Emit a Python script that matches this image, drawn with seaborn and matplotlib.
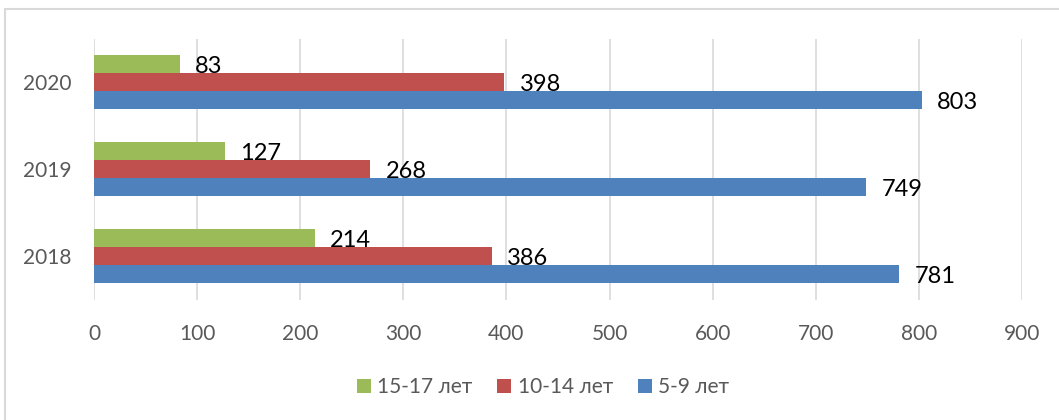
import matplotlib
matplotlib.use("Agg")
import matplotlib.pyplot as plt
from matplotlib.patches import Patch
from matplotlib.lines import Line2D
import seaborn as sns
import pandas as pd

years = ["2020", "2019", "2018"]
series = ["15-17 лет", "10-14 лет", "5-9 лет"]
values_15_17 = [83, 127, 214]
values_10_14 = [398, 268, 386]
values_5_9 = [803, 749, 781]
colors = ["#9BBB59", "#C0504D", "#4F81BD"]
xticks = [0, 100, 200, 300, 400, 500, 600, 700, 800, 900]

rows = []
for s, vals in zip(series, [values_15_17, values_10_14, values_5_9]):
    for y, v in zip(years, vals):
        rows.append({"year": y, "series": s, "value": v})
df = pd.DataFrame(rows)

sns.set_theme(style="white")
plt.rcParams["font.family"] = ["Lato", "DejaVu Sans"]

fig = plt.figure(figsize=(10.59, 4.2), dpi=100)
ax = fig.add_axes([94 / 1059, 1 - 299.5 / 420, (1022 - 94) / 1059, (299.5 - 38.5) / 420])

sns.barplot(data=df, x="value", y="year", hue="series", order=years, hue_order=series,
            palette=colors, orient="h", width=0.62, gap=0, saturation=1,
            edgecolor="none", linewidth=0, ax=ax, legend=False)

for cont in ax.containers:
    texts = ax.bar_label(cont, padding=11, fontsize=17, color="black")
    for t in texts:
        t.xyann = (11, -2)

ax.set_xlim(0, 900)
ax.set_ylim(2.5, -0.5)
ax.set_xticks(xticks)
ax.xaxis.grid(True, color="#d9d9d9", linewidth=1.2)
ax.yaxis.grid(False)
ax.set_axisbelow(True)
for sp in ax.spines.values():
    sp.set_visible(False)
ax.set_xlabel("")
ax.set_ylabel("")
ax.tick_params(axis="x", length=0, pad=18, labelsize=15, labelcolor="#595959")
ax.tick_params(axis="y", length=0, pad=16, labelsize=15, labelcolor="#595959")

handles = [Patch(facecolor=c, edgecolor="none", label=s) for c, s in zip(colors, series)]
fig.legend(handles=handles, loc="center", bbox_to_anchor=(543 / 1059, 1 - 387 / 420),
           ncol=3, frameon=False, fontsize=15, handlelength=0.67, handleheight=0.67,
           handletextpad=0.3, columnspacing=1.2, labelcolor="#595959")

fig.add_artist(Line2D([5 / 1059, 5 / 1059], [0, 1 - 9 / 420], transform=fig.transFigure,
                      color="#d9d9d9", linewidth=1.5))
fig.add_artist(Line2D([5 / 1059, 1], [1 - 9 / 420, 1 - 9 / 420], transform=fig.transFigure,
                      color="#d9d9d9", linewidth=1.5))

fig.savefig("out.png", dpi=100)
